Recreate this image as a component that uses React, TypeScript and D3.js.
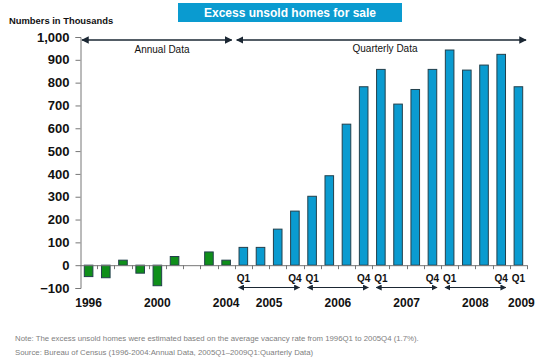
import React, { useEffect, useRef } from 'react';
import * as d3 from 'd3';

// Annual data 1996-2004, quarterly data 2005Q1-2009Q1 (thousands)
const annualYears = ['1996', '1997', '1998', '1999', '2000', '2001', '2002', '2003', '2004'];
const annualValues = [-50, -55, 22, -35, -90, 38, 0, 58, 22];
const quarterKeys = [
  '2005Q1', '2005Q2', '2005Q3', '2005Q4',
  '2006Q1', '2006Q2', '2006Q3', '2006Q4',
  '2007Q1', '2007Q2', '2007Q3', '2007Q4',
  '2008Q1', '2008Q2', '2008Q3', '2008Q4',
  '2009Q1',
];
const quarterValues = [78, 78, 158, 237, 302, 392, 618, 782, 858, 706, 770, 858, 943, 855, 877, 924, 782];
const yTicks = [-100, 0, 100, 200, 300, 400, 500, 600, 700, 800, 900, 1000];
const annualLabels = ['1996', '2000', '2004'];
const quarterYears = ['2005', '2006', '2007', '2008'];

const BLUE = '#0a9bd0';
const GREEN = '#0f8f1a';
const DARK = '#1b2733';

const App = () => {
  const svgRef = useRef<SVGSVGElement>(null);

  useEffect(() => {
    const svg = d3.select(svgRef.current);
    svg.selectAll('*').remove();

    const width = 550;
    const height = 360;
    svg.attr('width', width).attr('height', height);

    const data = [
      ...annualYears.map((k, i) => ({ key: k, value: annualValues[i], annual: true })),
      ...quarterKeys.map((k, i) => ({ key: k, value: quarterValues[i], annual: false })),
    ];

    const x = d3.scaleBand<string>()
      .domain(data.map(d => d.key))
      .range([80, 527])
      .paddingInner(0.5)
      .paddingOuter(0.25);
    const step = x.step();
    const slotStart = (k: string) => (x(k) as number) - x.paddingInner() * step / 2;
    const center = (k: string) => (x(k) as number) + x.bandwidth() / 2;

    const y = d3.scaleLinear().domain([-100, 1000]).range([288, 37]);

    const defs = svg.append('defs');
    defs.append('marker')
      .attr('id', 'arr')
      .attr('viewBox', '0 0 10 10')
      .attr('refX', 9).attr('refY', 5)
      .attr('markerWidth', 5).attr('markerHeight', 5)
      .attr('orient', 'auto-start-reverse')
      .append('path')
      .attr('d', 'M0,0 L10,5 L0,10 z')
      .attr('fill', DARK);
    defs.append('marker')
      .attr('id', 'arrSmall')
      .attr('viewBox', '0 0 10 10')
      .attr('refX', 9).attr('refY', 5)
      .attr('markerWidth', 6).attr('markerHeight', 6)
      .attr('orient', 'auto-start-reverse')
      .append('path')
      .attr('d', 'M0,0 L10,5 L0,10 z')
      .attr('fill', DARK);

    // Title box
    svg.append('rect')
      .attr('x', 178).attr('y', 3).attr('width', 224).attr('height', 19)
      .attr('fill', BLUE);
    svg.append('text')
      .attr('x', 290).attr('y', 16.5)
      .attr('text-anchor', 'middle')
      .attr('fill', '#fff')
      .style('font', 'bold 12px Arial, "Liberation Sans", sans-serif')
      .text('Excess unsold homes for sale');

    svg.append('text')
      .attr('x', 9).attr('y', 24)
      .attr('fill', '#111')
      .style('font', 'bold 9.4px Arial, "Liberation Sans", sans-serif')
      .text('Numbers in Thousands');

    // Bars
    svg.selectAll('rect.bar')
      .data(data)
      .enter().append('rect')
      .attr('class', 'bar')
      .attr('x', d => x(d.key) as number)
      .attr('width', x.bandwidth())
      .attr('y', d => y(Math.max(0, d.value)))
      .attr('height', d => Math.abs(y(d.value) - y(0)))
      .attr('fill', d => (d.annual ? GREEN : BLUE))
      .attr('stroke', '#23404c')
      .attr('stroke-width', 1);

    // Y axis
    const yAxis = svg.append('g')
      .attr('transform', 'translate(80.5,0)')
      .call(d3.axisLeft(y).tickValues(yTicks).tickSize(5).tickPadding(6).tickFormat(d3.format(',')));
    yAxis.select('.domain').attr('stroke', '#777');
    yAxis.selectAll('.tick line').attr('stroke', '#777');
    yAxis.selectAll('.tick text')
      .attr('fill', '#111')
      .style('font', 'bold 13px Arial, "Liberation Sans", sans-serif');

    // Zero baseline with category ticks
    svg.append('line')
      .attr('x1', 80).attr('x2', 527)
      .attr('y1', y(0) + 0.5).attr('y2', y(0) + 0.5)
      .attr('stroke', '#777');
    const boundaries = data.map(d => slotStart(d.key)).slice(1).concat([527]);
    svg.selectAll('line.ctick')
      .data(boundaries)
      .enter().append('line')
      .attr('class', 'ctick')
      .attr('x1', d => Math.round(d) + 0.5).attr('x2', d => Math.round(d) + 0.5)
      .attr('y1', y(0)).attr('y2', y(0) + 4)
      .attr('stroke', '#777');

    // Top period arrows
    const firstQ = quarterKeys[0];
    const topY = 40;
    svg.append('line')
      .attr('x1', 82).attr('x2', slotStart(firstQ) - 3)
      .attr('y1', topY).attr('y2', topY)
      .attr('stroke', DARK).attr('stroke-width', 1.5)
      .attr('marker-start', 'url(#arr)').attr('marker-end', 'url(#arr)');
    svg.append('line')
      .attr('x1', slotStart(firstQ) + 2).attr('x2', 526)
      .attr('y1', topY).attr('y2', topY)
      .attr('stroke', DARK).attr('stroke-width', 1.5)
      .attr('marker-start', 'url(#arr)').attr('marker-end', 'url(#arr)');
    svg.append('text')
      .attr('x', 162).attr('y', 53)
      .attr('text-anchor', 'middle').attr('fill', '#111')
      .style('font', '10px Arial, "Liberation Sans", sans-serif')
      .text('Annual Data');
    svg.append('text')
      .attr('x', 385).attr('y', 52)
      .attr('text-anchor', 'middle').attr('fill', '#111')
      .style('font', '10px Arial, "Liberation Sans", sans-serif')
      .text('Quarterly Data');

    const boldFont = (s: number) => `bold ${s}px Arial, "Liberation Sans", sans-serif`;

    // Annual year labels
    svg.selectAll('text.ylab')
      .data(annualLabels)
      .enter().append('text')
      .attr('class', 'ylab')
      .attr('x', d => center(d))
      .attr('y', 307)
      .attr('text-anchor', 'middle').attr('fill', '#111')
      .style('font', boldFont(12))
      .text(d => d);

    // Quarter labels, arrows and years
    quarterYears.forEach(yr => {
      const q1 = `${yr}Q1`;
      const q4 = `${yr}Q4`;
      [['Q1', q1], ['Q4', q4]].forEach(([lab, k]) => {
        svg.append('text')
          .attr('x', center(k)).attr('y', 282)
          .attr('text-anchor', 'middle').attr('fill', '#111')
          .style('font', boldFont(10))
          .text(lab);
      });
      svg.append('line')
        .attr('x1', slotStart(q1) + 4).attr('x2', slotStart(q4) + step - 4)
        .attr('y1', 287.5).attr('y2', 287.5)
        .attr('stroke', DARK).attr('stroke-width', 1)
        .attr('marker-start', 'url(#arrSmall)').attr('marker-end', 'url(#arrSmall)');
      svg.append('text')
        .attr('x', (center(q1) + center(q4)) / 2).attr('y', 307)
        .attr('text-anchor', 'middle').attr('fill', '#111')
        .style('font', boldFont(12))
        .text(yr);
    });
    svg.append('text')
      .attr('x', center('2009Q1')).attr('y', 282)
      .attr('text-anchor', 'middle').attr('fill', '#111')
      .style('font', boldFont(10))
      .text('Q1');
    svg.append('text')
      .attr('x', center('2009Q1') + 3).attr('y', 307)
      .attr('text-anchor', 'middle').attr('fill', '#111')
      .style('font', boldFont(12))
      .text('2009');

    // Footnotes
    svg.append('text')
      .attr('x', 15).attr('y', 341)
      .attr('fill', '#808080')
      .style('font', '7.8px Arial, "Liberation Sans", sans-serif')
      .text('Note: The excess unsold homes were estimated based on the average vacancy rate from 1996Q1 to 2005Q4 (1.7%).');
    svg.append('text')
      .attr('x', 15).attr('y', 355)
      .attr('fill', '#808080')
      .style('font', '7.8px Arial, "Liberation Sans", sans-serif')
      .text('Source: Bureau of Census (1996-2004:Annual Data, 2005Q1\u20132009Q1:Quarterly Data)');
  }, []);

  return <svg ref={svgRef} style={{ position: 'absolute', left: 0, top: 0 }}></svg>;
};

export default App;
